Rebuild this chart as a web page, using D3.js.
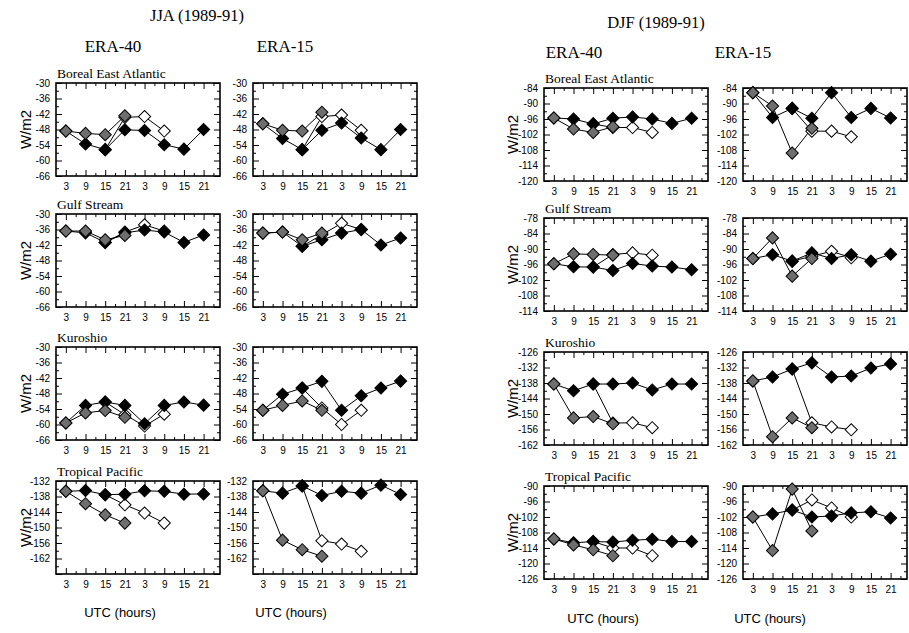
<!DOCTYPE html>
<html>
<head>
<meta charset="utf-8">
<script src="https://cdn.jsdelivr.net/npm/d3@7"></script>
<style>
  body { margin: 0; background: #fff; }
</style>
</head>
<body>
<svg id="chart" width="909" height="633"></svg>
<script>
// hours of the 48h window and their labels
const hours = [3, 9, 15, 21, 27, 33, 39, 45];
const hourLabels = ["3", "9", "15", "21", "3", "9", "15", "21"];
const minorHours = [6, 12, 18, 24, 30, 36, 42, 48];

const regions = ["Boreal East Atlantic", "Gulf Stream", "Kuroshio", "Tropical Pacific"];

const jjaDomains = [[-66, -30], [-66, -30], [-66, -30], [-168, -132]];
const djfDomains = [[-120, -84], [-114, -78], [-162, -126], [-126, -90]];

const jjaTickLabels = [
  [-30, -36, -42, -48, -54, -60, -66],
  [-30, -36, -42, -48, -54, -60, -66],
  [-30, -36, -42, -48, -54, -60, -66],
  [-132, -138, -144, -150, -156, -162]
];
const djfTickLabels = [
  [-84, -90, -96, -102, -108, -114, -120],
  [-78, -84, -90, -96, -102, -108, -114],
  [-126, -132, -138, -144, -150, -156, -162],
  [-90, -96, -102, -108, -114, -120, -126]
];

// analysis (black, 8 values), forecast from day 1 (grey, hours 3-21),
// forecast started later (white, hours 15-33)
const jja40Analysis = [
  [-48.6, -53.6, -55.8, -48.1, -48.4, -53.9, -55.6, -48],
  [-36.6, -37.3, -41, -37.3, -36.2, -37, -41, -38.1],
  [-59.4, -52.6, -51.3, -52.6, -59.7, -52.6, -51.3, -52.5],
  [-136, -135.7, -137.3, -137.1, -135.8, -136, -137.1, -137]
];
const jja40Grey = [
  [-48.6, -49.5, -50, -42.7],
  [-36.6, -36.6, -40, -38.3],
  [-59.4, -55.5, -54.6, -57.2],
  [-136, -140.8, -145.1, -148.3]
];
const jja40White = [
  [-55.8, -43.3, -43, -48.6],
  [-41, -37, -34.2, -36.6],
  [-51.3, -56.2, -60.6, -56],
  [-137.3, -141.2, -144.4, -148.3]
];

const jja15Analysis = [
  [-45.8, -51.5, -55.8, -48.3, -45.5, -51.3, -55.8, -48],
  [-37.4, -37, -42.5, -40, -37.4, -36, -42, -39.3],
  [-54.5, -48.3, -45.9, -43.3, -54.5, -48.9, -45.9, -43.2],
  [-135.8, -136.7, -133.9, -137.6, -136, -136.7, -133.6, -137.2]
];
const jja15Grey = [
  [-45.8, -48.3, -48.6, -41.3],
  [-37.4, -37, -40, -37.4],
  [-54.5, -52.6, -50.9, -54.5],
  [-135.8, -154.9, -158.6, -161.1]
];
const jja15White = [
  [-55.8, -43, -42.4, -48.3],
  [-42.5, -38, -33.6, -36],
  [-45.9, -53.6, -60, -54.5],
  [-133.9, -155.1, -156.4, -159.2]
];

const djf40Analysis = [
  [-95.6, -96, -97.9, -95.7, -95.2, -96, -97.7, -95.7],
  [-95.7, -96.9, -97, -98.3, -95.6, -96.6, -97, -98],
  [-138.4, -141, -138.4, -138.4, -138, -140.7, -138.4, -138.4],
  [-110.5, -112, -111.5, -111.7, -111, -110.6, -111.5, -111.5]
];
const djf40Grey = [
  [-95.6, -99.9, -101.2, -99],
  [-95.7, -91.9, -92.1, -92.4],
  [-138.4, -151.5, -151, -153.8],
  [-110.5, -112.8, -114.7, -117]
];
const djf40White = [
  [-97.9, -99.3, -99.3, -101.2],
  [-97, -92.1, -91.5, -92.4],
  [-138.4, -153.5, -153.4, -155.3],
  [-111.5, -114, -114, -117]
];

const djf15Analysis = [
  [-85.8, -95.4, -91.9, -95.7, -85.8, -95.4, -91.9, -95.6],
  [-93.7, -92.2, -94.7, -91.5, -93.7, -92.2, -94.7, -92],
  [-137.2, -135.7, -132.6, -130.2, -135.7, -135.3, -132.2, -130.6],
  [-102, -100.8, -99.3, -102, -101.6, -100.4, -100, -102.4]
];
const djf15Grey = [
  [-85.8, -91, -109.2, -99.6],
  [-93.7, -85.7, -100.5, -93.7],
  [-137.2, -158.8, -151.5, -155.3],
  [-102, -115, -91.2, -107.4]
];
const djf15White = [
  [-91.9, -100.7, -100.7, -102.9],
  [-94.7, -92.8, -90.9, -93.4],
  [-132.6, -153.4, -155, -156.1],
  [-99.3, -95.4, -98.5, -102]
];

const panelW = 164;
const panelH = 93;
const serif = "Liberation Serif, Times New Roman, serif";
const sans = "Liberation Sans, Arial, sans-serif";

const svg = d3.select("#chart");

const diamond = d3.symbol().type(d3.symbolSquare).size(74);

function drawPanel(x0, y0, domain, labels, analysis, grey, white) {
  const x = d3.scaleLinear().domain([0, 50]).range([x0, x0 + panelW]);
  const y = d3.scaleLinear().domain(domain).range([y0 + panelH, y0]);

  const majorY = d3.range(domain[1], domain[0] - 0.01, -6);
  const minorY = d3.range(domain[1] - 3, domain[0], -6);

  const g = svg.append("g");

  function clean(sel) {
    sel.select(".domain").remove();
    sel.selectAll("line").attr("stroke", "#000");
    sel.attr("font-family", sans).attr("font-size", 10);
    sel.selectAll("text").attr("fill", "#000");
  }

  // bottom axis with labels
  g.append("g")
    .attr("transform", `translate(0,${y0 + panelH})`)
    .call(d3.axisBottom(x).tickValues(hours).tickSize(-6).tickPadding(6.5)
      .tickFormat((d, i) => hourLabels[i]))
    .call(clean);
  g.append("g")
    .attr("transform", `translate(0,${y0 + panelH})`)
    .call(d3.axisBottom(x).tickValues(minorHours).tickSize(-3).tickFormat(""))
    .call(clean);
  // top mirror ticks
  g.append("g")
    .attr("transform", `translate(0,${y0})`)
    .call(d3.axisTop(x).tickValues(hours).tickSize(-6).tickFormat(""))
    .call(clean);
  g.append("g")
    .attr("transform", `translate(0,${y0})`)
    .call(d3.axisTop(x).tickValues(minorHours).tickSize(-3).tickFormat(""))
    .call(clean);
  // left axis with labels
  g.append("g")
    .attr("transform", `translate(${x0},0)`)
    .call(d3.axisLeft(y).tickValues(majorY).tickSize(-6).tickPadding(6)
      .tickFormat(d => labels.includes(d) ? String(d) : ""))
    .call(clean);
  g.append("g")
    .attr("transform", `translate(${x0},0)`)
    .call(d3.axisLeft(y).tickValues(minorY).tickSize(-3).tickFormat(""))
    .call(clean);
  // right mirror ticks
  g.append("g")
    .attr("transform", `translate(${x0 + panelW},0)`)
    .call(d3.axisRight(y).tickValues(majorY).tickSize(-6).tickFormat(""))
    .call(clean);
  g.append("g")
    .attr("transform", `translate(${x0 + panelW},0)`)
    .call(d3.axisRight(y).tickValues(minorY).tickSize(-3).tickFormat(""))
    .call(clean);

  g.append("rect")
    .attr("x", x0).attr("y", y0)
    .attr("width", panelW).attr("height", panelH)
    .attr("fill", "none").attr("stroke", "#000").attr("stroke-width", 1.6);

  const series = [
    { values: white, start: 2, fill: "#fff" },
    { values: analysis, start: 0, fill: "#000" },
    { values: grey, start: 0, fill: "#6e6e6e" }
  ];

  const line = d3.line().x(d => x(d.h)).y(d => y(d.v));

  series.forEach(s => {
    s.points = s.values.map((v, i) => ({ h: hours[s.start + i], v: v }));
    g.append("path")
      .datum(s.points)
      .attr("d", line)
      .attr("fill", "none")
      .attr("stroke", "#000")
      .attr("stroke-width", 1);
  });

  series.forEach(s => {
    g.selectAll(null)
      .data(s.points)
      .enter()
      .append("path")
      .attr("d", diamond)
      .attr("transform", d => `translate(${x(d.h)},${y(d.v)}) rotate(45)`)
      .attr("fill", s.fill)
      .attr("stroke", "#000")
      .attr("stroke-width", 1);
  });
}

function drawSeason(opts) {
  svg.append("text")
    .attr("x", opts.titleX).attr("y", opts.titleY)
    .attr("text-anchor", "middle")
    .attr("font-family", serif).attr("font-size", 16.5)
    .text(opts.title);

  opts.columns.forEach((col, c) => {
    svg.append("text")
      .attr("x", col.labelX).attr("y", opts.headY)
      .attr("text-anchor", "middle")
      .attr("font-family", serif).attr("font-size", 17)
      .text(col.name);

    svg.append("text")
      .attr("x", col.utcX).attr("y", opts.utcY)
      .attr("text-anchor", "middle")
      .attr("font-family", sans).attr("font-size", 13)
      .text("UTC (hours)");

    regions.forEach((region, r) => {
      drawPanel(col.x, opts.rows[r], opts.domains[r], opts.ticks[r],
        col.analysis[r], col.grey[r], col.white[r]);
    });
  });

  regions.forEach((region, r) => {
    svg.append("text")
      .attr("x", opts.columns[0].x + 1).attr("y", opts.rows[r] - 5)
      .attr("font-family", serif).attr("font-size", 13.5)
      .text(region);

    const cy = opts.rows[r] + panelH / 2;
    svg.append("text")
      .attr("transform", `translate(${opts.wX},${cy}) rotate(-90)`)
      .attr("text-anchor", "middle")
      .attr("font-family", sans).attr("font-size", 15)
      .text("W/m2");
  });
}

drawSeason({
  title: "JJA (1989-91)", titleX: 197, titleY: 21, headY: 52, utcY: 617, wX: 31,
  rows: [83, 214, 347, 481],
  domains: jjaDomains, ticks: jjaTickLabels,
  columns: [
    { name: "ERA-40", x: 56, labelX: 113, utcX: 120, analysis: jja40Analysis, grey: jja40Grey, white: jja40White },
    { name: "ERA-15", x: 253, labelX: 285, utcX: 291, analysis: jja15Analysis, grey: jja15Grey, white: jja15White }
  ]
});

drawSeason({
  title: "DJF (1989-91)", titleX: 656, titleY: 28, headY: 58, utcY: 623, wX: 518,
  rows: [88, 218, 352, 486],
  domains: djfDomains, ticks: djfTickLabels,
  columns: [
    { name: "ERA-40", x: 544, labelX: 574, utcX: 603, analysis: djf40Analysis, grey: djf40Grey, white: djf40White },
    { name: "ERA-15", x: 743, labelX: 743, utcX: 770, analysis: djf15Analysis, grey: djf15Grey, white: djf15White }
  ]
});
</script>
</body>
</html>
